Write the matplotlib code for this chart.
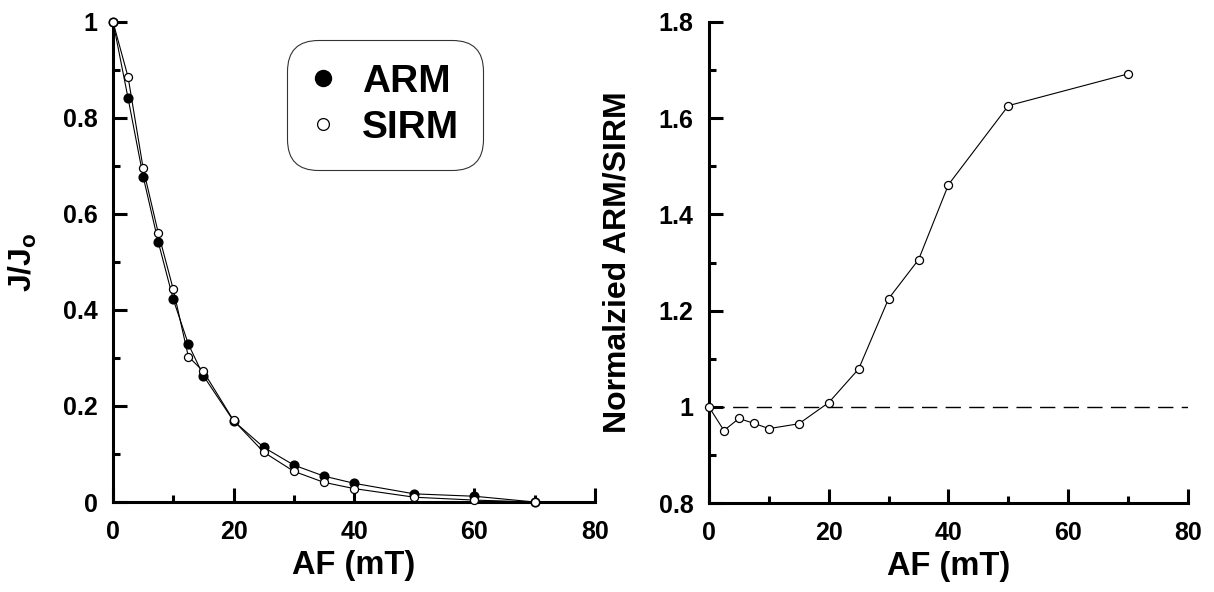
import matplotlib
matplotlib.use("Agg")
import matplotlib.pyplot as plt
from matplotlib.ticker import MultipleLocator

plt.rcParams['font.family'] = ['Liberation Sans', 'DejaVu Sans']
plt.rcParams['font.weight'] = 'bold'
plt.rcParams['mathtext.fontset'] = 'custom'
plt.rcParams['mathtext.rm'] = 'Liberation Sans:bold'
plt.rcParams['mathtext.it'] = 'Liberation Sans:bold'
plt.rcParams['mathtext.bf'] = 'Liberation Sans:bold'

# AF demagnetisation steps (mT)
af = [0, 2.5, 5, 7.5, 10, 12.5, 15, 20, 25, 30, 35, 40, 50, 60, 70]
arm = [1.0, 0.841, 0.678, 0.542, 0.422, 0.329, 0.263, 0.169, 0.114,
       0.077, 0.054, 0.039, 0.017, 0.012, 0.0]
sirm = [1.0, 0.885, 0.695, 0.561, 0.443, 0.303, 0.272, 0.170, 0.104,
        0.064, 0.041, 0.028, 0.010, 0.004, 0.0]

# normalized ARM/SIRM ratio
af_ratio = [0, 2.5, 5, 7.5, 10, 15, 20, 25, 30, 35, 40, 50, 70]
ratio = [1.0, 0.951, 0.976, 0.966, 0.955, 0.965, 1.009, 1.079, 1.225,
         1.306, 1.462, 1.626, 1.692]


def style_axes(ax):
    """Only left and bottom spines, ticks pointing inward."""
    for side in ['top', 'right']:
        ax.spines[side].set_visible(False)
    for side in ['left', 'bottom']:
        ax.spines[side].set_linewidth(2.2)
    ax.tick_params(which='major', direction='in', length=10, width=2.2,
                   labelsize=18)
    ax.tick_params(which='minor', direction='in', length=5, width=2.2)
    ax.tick_params(axis='x', which='major', pad=13)
    ax.tick_params(axis='y', which='major', pad=11)
    ax.xaxis.set_major_locator(MultipleLocator(20))
    ax.xaxis.set_minor_locator(MultipleLocator(10))
    ax.yaxis.set_major_locator(MultipleLocator(0.2))
    ax.yaxis.set_minor_locator(MultipleLocator(0.1))
    ax.yaxis.set_major_formatter(plt.FuncFormatter(lambda v, p: ('%g' % round(v, 2))))
    ax.set_xlabel('AF (mT)', fontsize=23.5, fontweight='bold', labelpad=4)


fig = plt.figure(figsize=(12.14, 5.92), dpi=100)
ax1 = fig.add_axes([0.0931, 0.152, 0.397, 0.811])
ax2 = fig.add_axes([0.584, 0.150, 0.3946, 0.813])

# Left panel: decay curves
ax1.plot(af, arm, '-o', color='black', lw=0.8, ms=6.3, mfc='black',
         mec='black', clip_on=False, zorder=3)
ax1.plot(af, sirm, '-o', color='black', lw=0.8, ms=5.8, mfc='white',
         mec='black', mew=0.9, clip_on=False, zorder=4)
ax1.set_xlim(0, 80)
ax1.set_ylim(0, 1)
style_axes(ax1)
ax1.set_ylabel('J/J$_\\mathregular{o}$', fontsize=23, fontweight='bold',
               labelpad=17)

# Legend drawn as a rounded box
leg_h = [plt.Line2D([], [], ls='none', marker='o', ms=11.5, mfc='black', mec='black'),
         plt.Line2D([], [], ls='none', marker='o', ms=8.5, mfc='white', mec='black',
                    mew=0.9)]
leg = ax1.legend(leg_h, ['ARM', 'SIRM'], loc='upper left',
                 bbox_to_anchor=(0.361, 0.9625), fontsize=28, frameon=True,
                 fancybox=True, handlelength=0.6, handletextpad=0.7,
                 borderpad=0.62, labelspacing=0.25, borderaxespad=0)
leg.get_frame().set_edgecolor('black')
leg.get_frame().set_linewidth(0.8)
leg.get_frame().set_boxstyle('round', pad=0, rounding_size=0.8)
for t in leg.get_texts():
    t.set_fontweight('bold')

# Right panel: ratio
ax2.axhline(1.0, color='black', lw=1.0, dashes=(11, 6), zorder=1)
ax2.plot(af_ratio, ratio, '-o', color='black', lw=0.8, ms=5.8, mfc='white',
         mec='black', mew=0.9, clip_on=False, zorder=3)
ax2.set_xlim(0, 80)
ax2.set_ylim(0.8, 1.8)
style_axes(ax2)
ax2.set_ylabel('Normalzied ARM/SIRM', fontsize=23, fontweight='bold',
               labelpad=19)

fig.savefig('out.png', dpi=100)
